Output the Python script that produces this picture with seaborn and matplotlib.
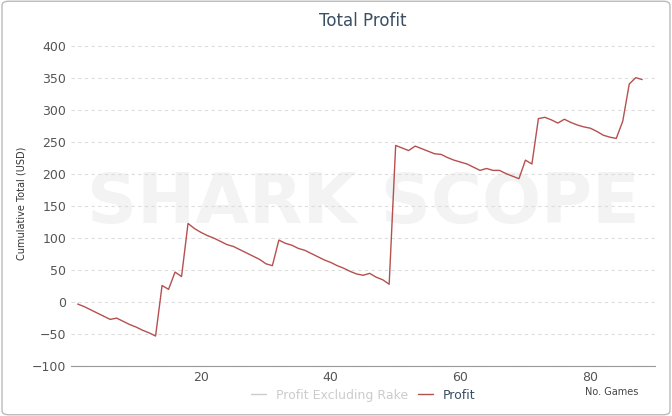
import matplotlib
matplotlib.use("Agg")
import matplotlib.pyplot as plt
import seaborn as sns
import pandas as pd
from matplotlib.patches import FancyBboxPatch

games = list(range(1, 89))
profit = [-3,-7,-12,-17,-22,-27,-25,-30,-35,-39,-44,-48,-53,26,20,47,40,123,115,109,
          104,100,95,90,87,82,77,72,67,60,57,97,92,89,84,81,76,71,66,62,
          57,53,48,44,42,45,39,35,28,245,241,237,244,240,236,232,231,226,222,219,
          216,211,206,209,206,206,201,197,193,222,216,287,289,285,280,286,281,277,274,272,
          267,261,258,256,283,341,351,348]
yticks = [-100, -50, 0, 50, 100, 150, 200, 250, 300, 350, 400]
xticks = [20, 40, 60, 80]

df = pd.DataFrame({"Games": games, "Profit": profit})

sns.set_style("white")
plt.rcParams['font.family'] = ['DejaVu Sans']
fig = plt.figure(figsize=(6.72, 4.16), dpi=100)
ax = fig.add_axes([0.106, 0.12, 0.869, 0.784])

fig.patches.append(FancyBboxPatch((0.003, 0.003), 0.994, 0.994, boxstyle="round,pad=0,rounding_size=0.01",
                                  transform=fig.transFigure, fill=False, edgecolor="#bbbbbb", linewidth=1))
ax.text(0.5, 0.5, "SHARK SCOPE", transform=ax.transAxes, ha="center", va="center",
        fontsize=50, fontweight="bold", color="#f3f3f3", zorder=0)

sns.lineplot(data=df, x="Games", y="Profit", ax=ax, color="#b5504f", linewidth=1, zorder=3)
ax.set_xlim(0, 90)
ax.set_ylim(-100, 410)
ax.set_xticks(xticks)
ax.set_yticks(yticks)
ax.set_yticklabels(["\u2212100" if t == -100 else ("\u221250" if t == -50 else str(t)) for t in yticks])
ax.tick_params(labelsize=9, colors="#555555", length=0)
ax.grid(axis="y", linestyle=(0, (3, 3)), color="#dddddd", linewidth=0.8)
for s in ["top", "right", "left"]:
    ax.spines[s].set_visible(False)
ax.spines["bottom"].set_color("#999999")
ax.set_xlabel("")
ax.set_ylabel("Cumulative Total (USD)", fontsize=7, color="#333333")
ax.set_title("Total Profit", fontsize=12, color="#3a4f63", pad=10)
fig.text(0.95, 0.05, "No. Games", fontsize=7, color="#444444", ha="right")

ax.plot([], [], color="#cccccc", linewidth=1, label="Profit Excluding Rake")
ax.plot([], [], color="#b5504f", linewidth=1, label="Profit")
leg = ax.legend(loc="upper center", bbox_to_anchor=(0.5, -0.035), ncol=2, frameon=False, fontsize=9,
                handlelength=1.2, columnspacing=0.8)
leg.get_texts()[0].set_color("#cccccc")
leg.get_texts()[1].set_color("#3a4f63")
fig.savefig("out.png", dpi=100)
